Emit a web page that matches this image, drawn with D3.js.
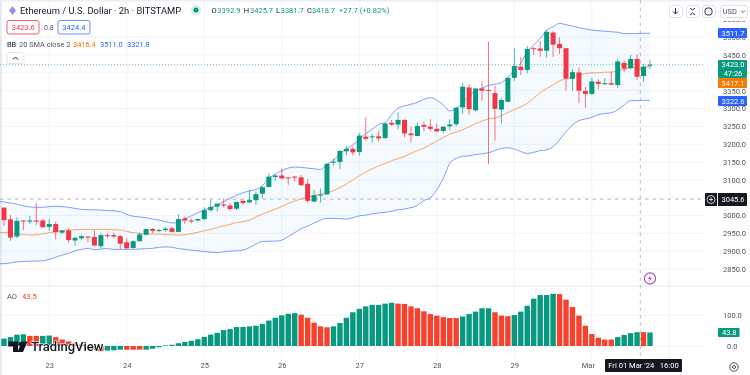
<!DOCTYPE html>
<html><head><meta charset="utf-8">
<style>
html,body{margin:0;padding:0;background:#fff;overflow:hidden}
svg{display:block;filter:blur(0.35px)}
text{font-family:Roboto,"Open Sans",sans-serif}
</style>
<script src="https://cdnjs.cloudflare.com/ajax/libs/d3/7.8.5/d3.min.js"></script>
</head><body><svg id="c" width="750" height="375"></svg>
<script>
const open=[3022,2989,2941,2986,2983,2986,2986,2968,2976,2952,2958,2930,2936,2941,2940,2914,2945,2945,2942,2925,2909,2928,2946,2962,2957,2959,2964,2954,2992,2986,2986,2990,3015,3025,3031,3028,3019,3041,3037,3043,3061,3080,3108,3112,3107,3109,3107,3089,3039,3056,3059,3148,3150,3180,3187,3178,3221,3220,3222,3217,3260,3255,3268,3230,3223,3254,3249,3243,3237,3250,3256,3303,3359,3295,3356,3352,3343,3297,3319,3386,3417,3408,3469,3468,3462,3513,3481,3469,3383,3401,3349,3341,3375,3369,3371,3366,3428,3413,3439,3391,3420];
const high=[3023,3001,2995,2987,2999,3034,2990,2990,2983,2959,2964,2941,2945,2943,2959,2950,2950,2952,2945,2936,2931,2952,2964,2965,2963,2967,2969,3003,2997,2992,2992,3023,3045,3034,3048,3034,3039,3046,3072,3067,3083,3118,3116,3132,3108,3111,3113,3102,3072,3076,3146,3159,3184,3196,3193,3232,3275,3229,3238,3260,3268,3289,3270,3249,3260,3263,3270,3258,3251,3270,3305,3371,3368,3357,3376,3487,3363,3329,3387,3469,3445,3475,3472,3490,3520,3517,3500,3469,3410,3415,3361,3387,3382,3385,3403,3438,3434,3450,3451,3424,3436];
const low=[2971,2929,2936,2959,2976,2973,2966,2957,2933,2948,2924,2915,2931,2925,2913,2908,2936,2936,2906,2906,2907,2927,2944,2950,2953,2955,2952,2953,2976,2978,2983,2987,3011,3011,3023,3013,3015,3030,3034,3030,3048,3078,3097,3102,3086,3096,3083,3036,3038,3036,3058,3139,3130,3169,3168,3168,3209,3204,3207,3216,3251,3242,3219,3205,3222,3237,3237,3233,3231,3240,3251,3285,3283,3291,3322,3144,3210,3258,3318,3377,3394,3399,3450,3445,3443,3445,3453,3350,3350,3315,3302,3338,3354,3366,3365,3357,3403,3411,3380,3375,3411];
const close=[2987,2938,2985,2984,2986,2983,2967,2976,2953,2958,2931,2937,2942,2939,2916,2945,2943,2941,2921,2908,2928,2947,2962,2957,2959,2963,2954,2990,2986,2985,2990,3015,3024,3033,3028,3018,3038,3035,3043,3060,3079,3109,3112,3104,3106,3107,3085,3041,3057,3059,3145,3151,3181,3187,3177,3224,3215,3222,3216,3258,3255,3268,3230,3225,3251,3249,3243,3236,3249,3255,3302,3361,3298,3356,3350,3350,3299,3324,3386,3419,3408,3467,3467,3462,3515,3479,3469,3384,3402,3350,3341,3376,3369,3371,3367,3432,3412,3439,3389,3417,3423];
const bbUpper=[3040,3038,3035,3032,3027,3024,3023,3023,3025,3026,3025,3023,3020,3017,3016,3016,3015,3014,3013,3011,3003,2998,2996,2994,2990,2987,2983,2979,2980,2991,2999,3008,3016,3022,3030,3039,3048,3057,3064,3069,3073,3084,3104,3116,3126,3133,3136,3135,3133,3131,3129,3144,3154,3174,3186,3198,3214,3230,3242,3256,3261,3282,3301,3307,3312,3317,3326,3330,3324,3310,3293,3301,3316,3335,3350,3357,3365,3368,3373,3387,3408,3427,3459,3478,3497,3520,3529,3539,3535,3531,3527,3523,3520,3518,3517,3515,3514,3510,3510,3510,3511,3511];
const bbBasis=[2952,2952,2951,2948,2947,2945,2946,2948,2952,2955,2958,2959,2960,2961,2961,2961,2961,2961,2960,2959,2955,2952,2950,2949,2948,2948,2947,2946,2945,2946,2949,2953,2957,2961,2966,2971,2975,2980,2983,2987,2996,3004,3011,3018,3025,3034,3041,3046,3051,3056,3060,3063,3070,3078,3088,3100,3111,3122,3131,3139,3146,3154,3159,3166,3174,3182,3189,3199,3209,3218,3228,3234,3240,3249,3257,3265,3271,3273,3280,3289,3297,3305,3314,3329,3344,3356,3366,3377,3384,3389,3395,3398,3400,3400,3402,3402,3406,3410,3414,3416,3416,3417];
const bbLower=[2864,2865,2867,2870,2871,2872,2872,2873,2877,2883,2889,2894,2901,2905,2908,2904,2906,2907,2905,2905,2905,2905,2906,2907,2908,2911,2912,2911,2907,2905,2903,2901,2899,2897,2896,2898,2900,2901,2903,2910,2920,2927,2928,2928,2931,2941,2952,2963,2970,2979,2987,2992,2992,2991,2990,2994,2999,3001,3005,3007,3009,3012,3016,3018,3022,3028,3042,3050,3072,3104,3146,3160,3166,3167,3171,3173,3176,3182,3188,3190,3186,3179,3174,3177,3182,3184,3193,3212,3235,3254,3266,3271,3275,3283,3286,3288,3296,3310,3322,3322,3323,3323];
const aoValues=[24,29,37,38,33,33,33,34,29,21,15,10,4,-4,-12,-17,-15,-14,-12,-12,-12,-12,-12,-9,-4,2,4,9,13,17,22,30,37,43,52,55,62,62,64,66,72,83,92,100,105,107,102,92,76,64,61,64,75,92,110,121,129,134,134,138,141,138,137,129,123,113,104,99,94,91,91,96,104,112,123,123,110,99,97,101,112,131,154,166,166,170,169,151,127,99,66,39,27,21,21,29,36,42,45,45,44];
const aoUp=[1,1,1,1,0,0,1,1,0,0,0,0,0,0,0,0,1,1,1,0,0,0,1,1,1,1,1,1,1,1,1,1,1,1,1,1,1,1,1,1,1,1,1,1,1,1,0,0,0,0,0,1,1,1,1,1,1,1,1,1,1,0,0,0,0,0,0,0,0,0,0,1,1,1,1,1,0,0,0,1,1,1,1,1,1,1,0,0,0,0,0,0,0,0,0,1,1,1,1,0,1];
const priceTicks=[2850,2900,2950,3000,3050,3100,3150,3200,3250,3300,3350,3400,3450,3500,3550];
const priceTickLabels=[2850,2900,2950,3000,3100,3150,3200,3250,3300,3350,3450,3500,3550];
const dayTicks=[7,19,31,43,55,67,79,91,103];
const dayLabels=["23","24","25","26","27","28","29","Mar"];
const aoTicks=[0,100];
const symbolTitle="Ethereum / U.S. Dollar · 2h · BITSTAMP";
const ohlcNames=["O","H","L","C"];
const ohlcValues=["3392.9","3425.7","3381.7","3418.7"];
const changeText="+27.7 (+0.82%)";
const bbValues=["3416.4","3511.0","3321.8"];

const GREEN="#089981",RED="#f23645",AORED="#f7412d",BLUE="#2962ff",ORANGE="#ff6d00",INK="#131722",AXIS="#50535e",GRID="#f0f3fa",DARK="#131722";
const svg=d3.select("#c");
const x=d3.scaleLinear().domain([0,100]).range([4,650]);
const y=d3.scaleLinear().domain([2850,3450]).range([269,55]);
const yAo=d3.scaleLinear().domain([0,100]).range([346,315.3]);
const bars=d3.range(open.length);

// grid
const g=svg.append("g");
g.selectAll(".v").data(dayTicks).join("line").attr("x1",d=>x(d)).attr("x2",d=>x(d)).attr("y1",0).attr("y2",359).attr("stroke",GRID);
g.selectAll(".h").data(priceTicks.filter(d=>d<3550)).join("line").attr("x1",0).attr("x2",705).attr("y1",d=>y(d)).attr("y2",d=>y(d)).attr("stroke",GRID);
g.selectAll(".a").data(aoTicks).join("line").attr("x1",0).attr("x2",705).attr("y1",d=>yAo(d)).attr("y2",d=>yAo(d)).attr("stroke",GRID);
g.append("rect").attr("x",0).attr("y",0).attr("width",2).attr("height",375).attr("fill","#e8eaf0");
g.append("rect").attr("x",0).attr("y",0).attr("width",750).attr("height",1.5).attr("fill","#eceef3");
g.append("line").attr("x1",0).attr("x2",750).attr("y1",286).attr("y2",286).attr("stroke","#e4e6ec");

// bollinger
const bx=i=>x(i-1);
svg.append("path").attr("fill","#2196f3").attr("fill-opacity",0.05).attr("d",d3.area().x((d,i)=>bx(i)).y0((d,i)=>y(bbLower[i])).y1((d,i)=>y(bbUpper[i])).curve(d3.curveMonotoneX)(bbUpper));
const ln=d3.line().x((d,i)=>bx(i)).y(d=>y(d)).curve(d3.curveMonotoneX);
svg.append("path").attr("fill","none").attr("stroke",BLUE).attr("stroke-opacity",.6).attr("d",ln(bbUpper));
svg.append("path").attr("fill","none").attr("stroke",BLUE).attr("stroke-opacity",.6).attr("d",ln(bbLower));
svg.append("path").attr("fill","none").attr("stroke",ORANGE).attr("stroke-opacity",.6).attr("d",ln(bbBasis));

// crosshair and last price
svg.append("line").attr("x1",0).attr("x2",705).attr("y1",y(close[100])).attr("y2",y(close[100])).attr("stroke",GREEN).attr("stroke-opacity",.6).attr("stroke-dasharray","1 2");
svg.append("line").attr("x1",0).attr("x2",705).attr("y1",y(3045.6)).attr("y2",y(3045.6)).attr("stroke","#9598a1").attr("stroke-opacity",.65).attr("stroke-dasharray","3.5 4");
svg.append("line").attr("x1",x(98.5)).attr("x2",x(98.5)).attr("y1",0).attr("y2",359).attr("stroke","#9598a1").attr("stroke-opacity",.65).attr("stroke-dasharray","3.5 4");

// candles
const col=i=>close[i]>=open[i]?GREEN:RED;
svg.selectAll(".w").data(bars).join("line").attr("x1",i=>x(i)).attr("x2",i=>x(i)).attr("y1",i=>y(high[i])).attr("y2",i=>y(low[i])).attr("stroke",col).attr("stroke-opacity",.7);
svg.selectAll(".b").data(bars).join("rect").attr("x",i=>x(i)-2.5).attr("width",5)
 .attr("y",i=>y(Math.max(open[i],close[i]))).attr("height",i=>Math.max(1,Math.abs(y(open[i])-y(close[i])))).attr("fill",col);

// AO
svg.selectAll(".ao").data(bars).join("rect").attr("x",i=>x(i)-2.7).attr("width",5.4)
 .attr("y",i=>Math.min(yAo(0),yAo(aoValues[i]))).attr("height",i=>Math.abs(yAo(0)-yAo(aoValues[i])))
 .attr("fill",i=>aoUp[i]?GREEN:AORED);

// price axis
const FS=7.5;
const yAxis=d3.axisRight(y).tickValues(priceTickLabels).tickSize(0).tickFormat(d3.format(".1f"));
const ay=svg.append("g").attr("transform","translate(720,0)").call(yAxis);
ay.select(".domain").remove();
ay.selectAll("text").attr("fill",AXIS).attr("font-size",FS).attr("x",3);
const ao=d3.axisRight(yAo).tickValues(aoTicks).tickSize(0).tickFormat(d3.format(".1f"));
const aa=svg.append("g").attr("transform","translate(720,0)").call(ao);
aa.select(".domain").remove();
aa.selectAll("text").attr("fill",AXIS).attr("font-size",FS).attr("x",d=>d===0?7:3);

// time axis
const xAxis=d3.axisBottom(x).tickValues(dayTicks.slice(0,8)).tickSize(0).tickFormat((d,i)=>dayLabels[i]);
const ax=svg.append("g").attr("transform","translate(0,361)").call(xAxis);
ax.select(".domain").remove();
ax.selectAll("text").attr("fill",AXIS).attr("font-size",7.5).attr("dy","0.9em").attr("y",0);
ax.selectAll("text").filter(d=>d===91).attr("dx",-4);

function badge(x0,y0,w,h,fill,lines){
 svg.append("rect").attr("x",x0).attr("y",y0).attr("width",w).attr("height",h).attr("fill",fill).attr("rx",1);
 lines.forEach((t,i)=>svg.append("text").attr("x",x0+w/2+.5).attr("y",y0+h/lines.length*(i+.5)).attr("dy","0.35em").attr("text-anchor","middle").attr("fill","#fff").attr("font-size",FS).text(t));
}
badge(718,28,29,10,"#2962ff",["3511.7"]);
badge(718,60,29,18,GREEN,["3423.0","47:26"]);
badge(718,78,29,10,"#f57c00",["3417.1"]);
badge(718,96,29,10,"#2962ff",["3322.6"]);
badge(718,328,21.5,9,GREEN,["43.8"]);

// crosshair tags
svg.append("rect").attr("x",705).attr("y",193).attr("width",42).attr("height",13).attr("fill",DARK).attr("rx",1);
svg.append("line").attr("x1",717.5).attr("x2",717.5).attr("y1",193).attr("y2",206).attr("stroke","#fff");
svg.append("circle").attr("cx",711).attr("cy",199.5).attr("r",4).attr("fill","none").attr("stroke","#fff").attr("stroke-width",.8);
svg.append("path").attr("d","M709 199.5H713M711 197.5V201.5").attr("stroke","#fff").attr("stroke-width",.8);
svg.append("text").attr("x",733).attr("y",199.5).attr("dy","0.35em").attr("text-anchor","middle").attr("fill","#fff").attr("font-size",FS).text("3045.6");
svg.append("rect").attr("x",605).attr("y",359).attr("width",77).attr("height",13).attr("fill",DARK).attr("rx",1);
svg.append("text").attr("x",643.5).attr("y",365.5).attr("dy","0.35em").attr("text-anchor","middle").attr("fill","#fff").attr("font-size",7.6).style("white-space","pre").text("Fri 01 Mar '24   16:00");

// lightning marker
svg.append("circle").attr("cx",650).attr("cy",278.5).attr("r",5.6).attr("fill","#fff").attr("stroke","#ab47bc").attr("stroke-width",1.1);
svg.append("path").attr("d","M651 275L648 279H650L649 282L652 278H650Z").attr("fill","#ab47bc");

// settings icon
svg.append("circle").attr("cx",734).attr("cy",367).attr("r",4.2).attr("fill","none").attr("stroke",AXIS).attr("stroke-width",1);
svg.append("circle").attr("cx",734).attr("cy",367).attr("r",1.5).attr("fill","none").attr("stroke",AXIS).attr("stroke-width",1);

// header
const txt=(s,xx,yy,fill,size,weight)=>svg.append("text").attr("x",xx).attr("y",yy).attr("dy","0.35em").attr("fill",fill).attr("font-size",size).attr("font-weight",weight||400).text(s);
svg.append("path").attr("d","M12.5 6L16 10.5L12.5 15L9 10.5Z").attr("fill","#8f93ef");
txt(symbolTitle,20,10.5,INK,9.4);
svg.append("circle").attr("cx",196).attr("cy",10).attr("r",5.5).attr("fill",GREEN).attr("fill-opacity",.15);
svg.append("circle").attr("cx",196).attr("cy",10).attr("r",2.5).attr("fill",GREEN);
[[211.5,5.8],[243.7,6.3],[276,4.7],[307,5]].forEach((p,i)=>{
 txt(ohlcNames[i],p[0],10.5,INK,7.5);
 txt(ohlcValues[i],p[0]+p[1],10.5,GREEN,7.5);
});
txt(changeText,339,10.5,GREEN,7.5);

svg.append("rect").attr("x",7).attr("y",20.5).attr("width",32).attr("height",13.5).attr("rx",2).attr("fill","#fff").attr("stroke",RED).attr("stroke-opacity",.8);
txt("3423.6",11.7,27.5,RED,7.5);
txt("0.8",44,27.5,AXIS,7);
svg.append("rect").attr("x",58).attr("y",20.5).attr("width",32).attr("height",13.5).attr("rx",2).attr("fill","#fff").attr("stroke",BLUE).attr("stroke-opacity",.7);
txt("3424.4",62.3,27.5,BLUE,7.5);

txt("BB",7,44,INK,7.4);
txt("20 SMA close 2",19,44,AXIS,7.4);
txt(bbValues[0],73,44,ORANGE,7.4);
txt(bbValues[1],100,44,BLUE,7.4);
txt(bbValues[2],127,44,BLUE,7.4);
svg.append("rect").attr("x",7).attr("y",52.5).attr("width",17).attr("height",11).attr("rx",2).attr("fill","#fff").attr("stroke","#e0e3eb");
svg.append("path").attr("d","M13 59.5L15.5 57L18 59.5").attr("fill","none").attr("stroke",INK);

txt("AO",7,296,AXIS,7.5);
txt("43.5",22,296,AORED,7.5);

// top buttons
svg.append("rect").attr("x",716).attr("y",1.5).attr("width",34).attr("height",19.5).attr("fill","#fff");
[[669,13],[686,13],[702,13],[720,27]].forEach(b=>svg.append("rect").attr("x",b[0]+.5).attr("y",5.5).attr("width",b[1]).attr("height",12).attr("rx",2.5).attr("fill","#fff").attr("stroke","#e0e3eb"));
svg.append("path").attr("d","M675.5 8V14M673 11.5L675.5 14L678 11.5").attr("fill","none").attr("stroke",INK).attr("stroke-width",.9);
svg.append("path").attr("d","M690 8L692.5 10L695 8M690 15L692.5 13L695 15").attr("fill","none").attr("stroke",INK).attr("stroke-width",.9);
svg.append("rect").attr("x",705).attr("y",8).attr("width",7).attr("height",7).attr("rx",2.5).attr("fill","none").attr("stroke",INK).attr("stroke-width",.9);
txt("USD",722.7,11.5,AXIS,7.5);
svg.append("path").attr("d","M741 10.5L743 12.5L745 10.5").attr("fill","none").attr("stroke",AXIS).attr("stroke-width",.9);

// watermark
const wm=svg.append("g");
wm.append("path").attr("d","M8.5 341.5H18V352H13V346.5H8.5ZM21.5 341.5H27.5L23 352H17.5Z").attr("fill",INK);
wm.append("circle").attr("cx",20.5).attr("cy",344).attr("r",2).attr("fill",INK);
wm.append("text").attr("x",31).attr("y",351).attr("fill",INK).attr("font-size",13).attr("font-weight",500).attr("stroke","#fff").attr("stroke-width",1.2).attr("paint-order","stroke").text("TradingView");
</script></body></html>
